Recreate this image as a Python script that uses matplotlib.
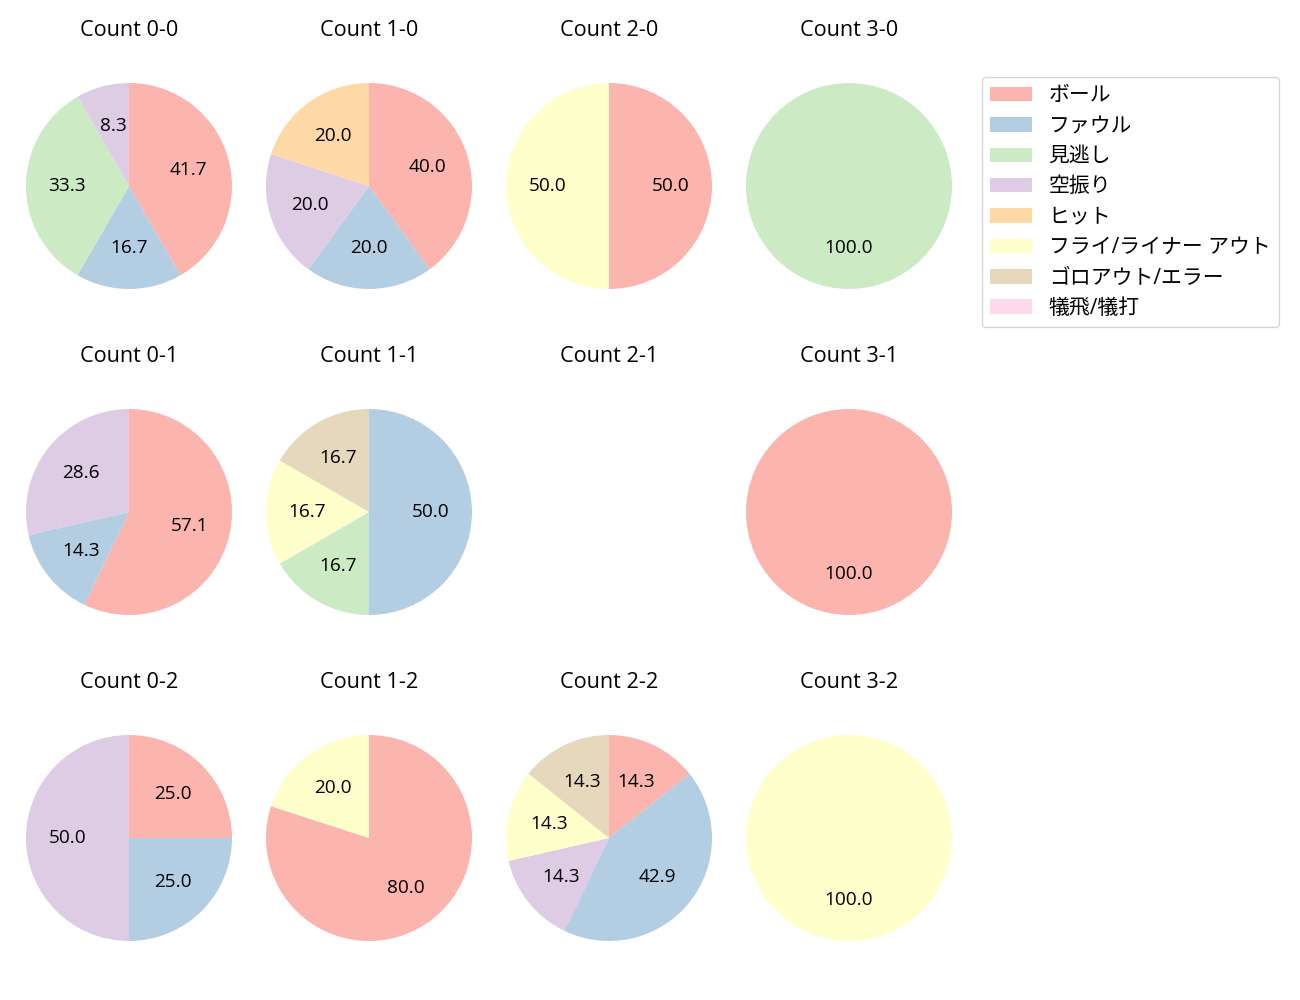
import matplotlib
matplotlib.use('Agg')
from matplotlib import pyplot as plt
from matplotlib.patches import Patch

plt.rcParams['font.family'] = ['Open Sans', 'Noto Sans CJK JP', 'DejaVu Sans']
plt.rcParams['font.size'] = 14

categories = ['ボール', 'ファウル', '見逃し', '空振り', 'ヒット',
              'フライ/ライナー アウト', 'ゴロアウト/エラー', '犠飛/犠打']
colors = ['#fbb4ae', '#b3cde3', '#ccebc5', '#decbe4',
          '#fed9a6', '#ffffcc', '#e5d8bd', '#fddaec']

# pitch result counts per ball-strike count, same order as categories
count_00 = [5, 2, 4, 1, 0, 0, 0, 0]
count_10 = [2, 1, 0, 1, 1, 0, 0, 0]
count_20 = [1, 0, 0, 0, 0, 1, 0, 0]
count_30 = [0, 0, 1, 0, 0, 0, 0, 0]
count_01 = [4, 1, 0, 2, 0, 0, 0, 0]
count_11 = [0, 3, 1, 0, 0, 1, 1, 0]
count_21 = [0, 0, 0, 0, 0, 0, 0, 0]
count_31 = [1, 0, 0, 0, 0, 0, 0, 0]
count_02 = [1, 1, 0, 2, 0, 0, 0, 0]
count_12 = [4, 0, 0, 0, 0, 1, 0, 0]
count_22 = [1, 3, 0, 1, 0, 1, 1, 0]
count_32 = [0, 0, 0, 0, 0, 1, 0, 0]

grid = [[count_00, count_10, count_20, count_30],
        [count_01, count_11, count_21, count_31],
        [count_02, count_12, count_22, count_32]]

W, H = 1300, 1000
fig = plt.figure(figsize=(13, 10), dpi=100)

side = 257.5
for r in range(3):
    for c in range(4):
        cx = 129 + 240 * c
        cy = 186 + 326 * r
        ax = fig.add_axes([(cx - side / 2) / W, 1 - (cy + side / 2) / H, side / W, side / H])
        vals = grid[r][c]
        v = [x for x in vals if x > 0]
        col = [colors[i] for i, x in enumerate(vals) if x > 0]
        if v:
            ax.pie(v, colors=col, startangle=90, counterclock=False,
                   autopct='%.1f', pctdistance=0.6, textprops={'fontsize': 13.7})
        ax.set_xlim(-1.25, 1.25)
        ax.set_ylim(-1.25, 1.25)
        ax.set_aspect('equal')
        ax.axis('off')
        ax.set_title(f'Count {c}-{r}', pad=15.5, fontsize=15.6)

handles = [Patch(facecolor=colors[i], label=categories[i]) for i in range(len(categories))]
fig.legend(handles=handles, loc='upper left', bbox_to_anchor=(982 / W, 1 - 77 / H),
           borderaxespad=0, frameon=True, fontsize=15, labelspacing=0.45)

fig.savefig('out.png')
